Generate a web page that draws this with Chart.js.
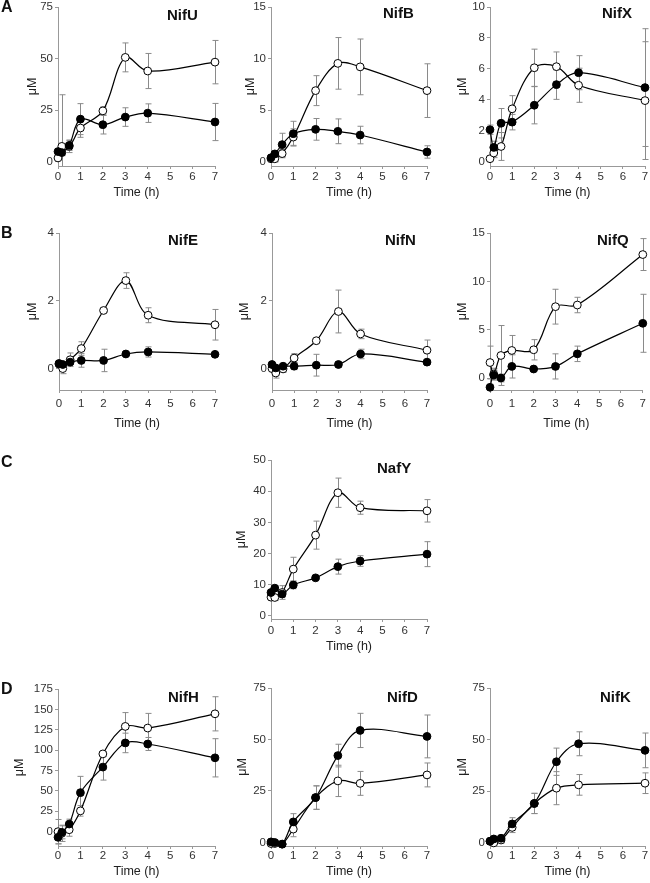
<!DOCTYPE html>
<html>
<head>
<meta charset="utf-8">
<script src="https://cdn.jsdelivr.net/npm/chart.js@4.4.1/dist/chart.umd.min.js"></script>
<style>
  body { margin: 0; background: #fff; width: 650px; height: 883px; overflow: hidden; position: relative;
         font-family: "Liberation Sans", Arial, sans-serif; }
  canvas { position: absolute; }
  .lbl { position: absolute; font-weight: bold; color: #111; white-space: nowrap; }
</style>
</head>
<body>
<script>
// sampling times (h), same for every panel
const hours = [0, 0.17, 0.5, 1, 2, 3, 4, 7];
const hourTicks = [0, 1, 2, 3, 4, 5, 6, 7];

// filled circles / open circles, with +/- error
const nifUFilled = [5.0, 4.5, 8.0, 20.7, 18.0, 21.7, 23.6, 19.3];
const nifUFilledErr = [1.5, 1.5, 2.5, 7.5, 4.5, 4.5, 4.5, 9.0];
const nifUOpen = [1.9, 7.5, 7.5, 16.4, 24.7, 50.6, 44.0, 48.3];
const nifUOpenErr = [1.0, 25.0, 3.0, 4.5, 2.0, 7.0, 8.5, 10.5];

const nifBFilled = [0.4, 0.77, 1.67, 2.73, 3.15, 2.96, 2.6, 0.96];
const nifBFilledErr = [0.3, 0.3, 1.1, 1.2, 1.05, 1.2, 0.85, 0.6];
const nifBOpen = [0.3, 0.3, 0.8, 2.4, 6.9, 9.54, 9.2, 6.9];
const nifBOpenErr = [0.3, 0.3, 0.4, 0.8, 1.45, 2.5, 2.7, 2.6];

const nifXFilled = [2.08, 0.94, 2.5, 2.57, 3.66, 4.99, 5.76, 4.8];
const nifXFilledErr = [0.3, 0.4, 0.95, 0.5, 1.2, 0.95, 1.1, 3.8];
const nifXOpen = [0.21, 0.58, 1.0, 3.43, 6.08, 6.15, 4.95, 3.96];
const nifXOpenErr = [0.1, 0.3, 0.9, 0.85, 1.2, 0.95, 1.1, 3.8];

const nifEFilled = [0.16, 0.13, 0.2, 0.25, 0.25, 0.44, 0.5, 0.43];
const nifEFilledErr = [0.04, 0.04, 0.05, 0.2, 0.33, 0.04, 0.15, 0.04];
const nifEOpen = [0.14, 0.01, 0.27, 0.6, 1.72, 2.6, 1.58, 1.3];
const nifEOpenErr = [0.1, 0.15, 0.2, 0.2, 0.05, 0.23, 0.22, 0.45];

const nifNFilled = [0.13, 0.03, 0.08, 0.08, 0.11, 0.13, 0.44, 0.2];
const nifNFilledErr = [0.04, 0.04, 0.05, 0.1, 0.32, 0.08, 0.14, 0.05];
const nifNOpen = [0.01, -0.12, 0.0, 0.32, 0.83, 1.69, 1.03, 0.55];
const nifNOpenErr = [0.05, 0.15, 0.1, 0.13, 0.04, 0.63, 0.14, 0.3];

const nifQFilled = [-0.96, 0.3, 0.0, 1.2, 0.93, 1.2, 2.5, 5.66];
const nifQFilledErr = [0.3, 0.5, 0.4, 1.2, 0.1, 1.3, 0.8, 3.0];
const nifQOpen = [1.6, 0.41, 2.33, 2.85, 2.92, 7.38, 7.55, 12.77];
const nifQOpenErr = [1.7, 0.6, 3.1, 1.55, 1.05, 1.8, 0.8, 1.65];

const nafYFilled = [7.5, 8.9, 7.0, 9.9, 12.2, 15.8, 17.6, 19.8];
const nafYFilledErr = [0.8, 0.8, 1.0, 1.2, 0.5, 2.4, 1.7, 4.0];
const nafYOpen = [6.0, 5.9, 7.5, 15.0, 25.9, 39.5, 34.7, 33.7];
const nafYOpenErr = [1.0, 1.0, 2.2, 3.8, 4.5, 4.7, 2.1, 3.6];

const nifHFilled = [-7.3, -1.2, 9, 47.6, 79, 108.7, 107.4, 90.4];
const nifHFilledErr = [8, 8, 6, 20, 16, 12, 8, 23.5];
const nifHOpen = [-0.4, -2.4, 2, 25.2, 95.2, 129, 127, 144.5];
const nifHOpenErr = [15, 10, 8, 6.5, 3, 17, 18, 21];

const nifDFilled = [0.3, 0, -0.8, 10, 21.8, 42.2, 54.4, 51.5];
const nifDFilledErr = [1.5, 1, 0.5, 4, 5.7, 5.5, 8.3, 10.4];
const nifDOpen = [-0.5, -0.5, -0.8, 6.5, 21.8, 29.9, 28.7, 32.8];
const nifDOpenErr = [1, 1, 0.5, 3.7, 5.7, 7.6, 5.8, 5.8];

const nifKFilled = [0.8, 1.9, 2.25, 9.2, 19.1, 39.3, 48, 44.8];
const nifKFilledErr = [1, 1, 1.5, 3, 4.9, 6.6, 5.8, 8.4];
const nifKOpen = [0.8, 0, 1.4, 7.5, 19.1, 26.5, 28.1, 28.9];
const nifKOpenErr = [0.8, 0.8, 1.5, 2.5, 4.9, 8, 5, 5];

// y tick labels
const ticks75 = [0, 25, 50, 75];
const ticks15 = [0, 5, 10, 15];
const ticks10 = [0, 2, 4, 6, 8, 10];
const ticks4 = [0, 2, 4];
const ticks50 = [0, 10, 20, 30, 40, 50];
const ticks175 = [0, 25, 50, 75, 100, 125, 150, 175];

// panel placement (page pixels)
const panels = [
  { name: 'NifU', f: nifUFilled, fe: nifUFilledErr, o: nifUOpen, oe: nifUOpenErr, ticks: ticks75, yMin: -2, yMax: 75,
    axisX: 58, top: 7, bottom: 166, right: 215, timeY: 193, tickPad: 1, muOff: 25, tx: 167, ty: 15 },
  { name: 'NifB', f: nifBFilled, fe: nifBFilledErr, o: nifBOpen, oe: nifBOpenErr, ticks: ticks15, yMin: -0.4, yMax: 15,
    axisX: 271, top: 7, bottom: 166, right: 427, timeY: 193, tickPad: 1, muOff: 20, tx: 383, ty: 13 },
  { name: 'NifX', f: nifXFilled, fe: nifXFilledErr, o: nifXOpen, oe: nifXOpenErr, ticks: ticks10, yMin: -0.26, yMax: 10,
    axisX: 490, top: 7, bottom: 166, right: 647, timeY: 193, tickPad: 1, muOff: 27, tx: 602, ty: 13 },
  { name: 'NifE', f: nifEFilled, fe: nifEFilledErr, o: nifEOpen, oe: nifEOpenErr, ticks: ticks4, yMin: -0.62, yMax: 4,
    axisX: 59, top: 233, bottom: 390, right: 215, timeY: 424, tickPad: 4, muOff: 26, tx: 168, ty: 240 },
  { name: 'NifN', f: nifNFilled, fe: nifNFilledErr, o: nifNOpen, oe: nifNOpenErr, ticks: ticks4, yMin: -0.62, yMax: 4,
    axisX: 272, top: 233, bottom: 390, right: 427, timeY: 424, tickPad: 4, muOff: 27, tx: 385, ty: 240 },
  { name: 'NifQ', f: nifQFilled, fe: nifQFilledErr, o: nifQOpen, oe: nifQOpenErr, ticks: ticks15, yMin: -1.24, yMax: 15,
    axisX: 490, top: 233, bottom: 390, right: 647, timeY: 424, tickPad: 4, muOff: 27, tx: 597, ty: 240 },
  { name: 'NafY', f: nafYFilled, fe: nafYFilledErr, o: nafYOpen, oe: nafYOpenErr, ticks: ticks50, yMin: -1, yMax: 50,
    axisX: 271, top: 460, bottom: 619, right: 427, timeY: 647, tickPad: 2, muOff: 29, tx: 377, ty: 468 },
  { name: 'NifH', f: nifHFilled, fe: nifHFilledErr, o: nifHOpen, oe: nifHOpenErr, ticks: ticks175, yMin: -18, yMax: 175,
    axisX: 58, top: 689, bottom: 846, right: 215, timeY: 872, tickPad: 0, muOff: 38, tx: 168, ty: 697 },
  { name: 'NifD', f: nifDFilled, fe: nifDFilledErr, o: nifDOpen, oe: nifDOpenErr, ticks: ticks75, yMin: -1.7, yMax: 75,
    axisX: 271, top: 688, bottom: 846, right: 427, timeY: 872, tickPad: 0, muOff: 28, tx: 387, ty: 697 },
  { name: 'NifK', f: nifKFilled, fe: nifKFilledErr, o: nifKOpen, oe: nifKOpenErr, ticks: ticks75, yMin: -1.5, yMax: 75,
    axisX: 490, top: 688, bottom: 846, right: 647, timeY: 872, tickPad: 0, muOff: 27, tx: 600, ty: 697 }
];

const rowLetters = [['A', 1, 7], ['B', 1, 233], ['C', 1, 462], ['D', 1, 689]];

Chart.defaults.font.family = '"Liberation Sans", Arial, sans-serif';

// vertical error bars with caps, drawn under the lines
const errorBars = {
  id: 'errorBars',
  beforeDatasetsDraw(chart) {
    const { ctx, chartArea, scales: { x, y } } = chart;
    ctx.save();
    ctx.beginPath();
    ctx.rect(chartArea.left - 6, chartArea.top - 2, chartArea.right - chartArea.left + 12, chartArea.bottom - chartArea.top + 2);
    ctx.clip();
    ctx.strokeStyle = '#8a8a8a';
    ctx.lineWidth = 1;
    chart.data.datasets.forEach(ds => {
      ds.data.forEach((p, i) => {
        const e = ds.errors[i];
        if (!e) return;
        const px = Math.round(x.getPixelForValue(p.x)) + 0.5;
        const top = y.getPixelForValue(p.y + e);
        const bot = y.getPixelForValue(p.y - e);
        ctx.beginPath();
        ctx.moveTo(px, top); ctx.lineTo(px, bot);
        ctx.moveTo(px - 3, top); ctx.lineTo(px + 3, top);
        ctx.moveTo(px - 3, bot); ctx.lineTo(px + 3, bot);
        ctx.stroke();
      });
    });
    ctx.restore();
  }
};

function points(values) {
  return values.map((v, i) => ({ x: hours[i], y: v }));
}

function series(values, errs, fill) {
  return {
    data: points(values),
    errors: errs,
    borderColor: '#000',
    borderWidth: 1.2,
    pointBackgroundColor: fill,
    pointBorderColor: '#000',
    pointBorderWidth: 1,
    pointRadius: 3.9,
    tension: 0.35,
    clip: false
  };
}

function drawPanel(p) {
  const padL = 50, padT = 10;
  const padR = p.right > 600 ? 3 : 10;
  const left = p.axisX - padL;
  const topY = p.top - padT;
  const canvasBottom = p.timeY + 9;
  const w = p.right + padR - left;
  const h = canvasBottom - topY;
  const xAxisH = canvasBottom - p.bottom;

  const canvas = document.createElement('canvas');
  canvas.width = w; canvas.height = h;
  canvas.style.left = left + 'px';
  canvas.style.top = topY + 'px';
  canvas.style.width = w + 'px';
  canvas.style.height = h + 'px';
  document.body.appendChild(canvas);

  new Chart(canvas.getContext('2d'), {
    type: 'line',
    data: {
      datasets: [series(p.f, p.fe, '#000'), series(p.o, p.oe, '#fff')]
    },
    options: {
      responsive: false,
      animation: false,
      layout: { padding: { left: 0, top: padT, right: padR, bottom: 0 } },
      plugins: { legend: { display: false }, tooltip: { enabled: false } },
      scales: {
        x: {
          type: 'linear', min: 0, max: 7,
          afterFit(s) { s.height = xAxisH; },
          afterBuildTicks(s) { s.ticks = hourTicks.map(v => ({ value: v })); },
          grid: { drawOnChartArea: false, tickLength: 3, color: '#999' },
          border: { color: '#999' },
          ticks: { font: { size: 11.5 }, color: '#333', padding: p.tickPad, maxRotation: 0, autoSkip: false },
          title: { display: true, text: 'Time (h)', font: { size: 12.5 }, color: '#222', padding: { top: 0, bottom: 1.5 } }
        },
        y: {
          min: p.yMin, max: p.yMax,
          afterFit(s) { s.width = padL; },
          afterBuildTicks(s) { s.ticks = p.ticks.map(v => ({ value: v })); },
          grid: { drawOnChartArea: false, tickLength: 3, color: '#999' },
          border: { color: '#999' },
          ticks: { font: { size: 11.5 }, color: '#333', padding: 2 },
          title: { display: true, text: 'μM', font: { size: 12.5 }, color: '#222', padding: { top: 42.5 - p.muOff, bottom: 0 } }
        }
      }
    },
    plugins: [errorBars]
  });

  const t = document.createElement('div');
  t.className = 'lbl';
  t.textContent = p.name;
  t.style.fontSize = '15px';
  t.style.lineHeight = '16px';
  t.style.left = p.tx + 'px';
  t.style.top = (p.ty - 8) + 'px';
  document.body.appendChild(t);
}

panels.forEach(drawPanel);

rowLetters.forEach(([letter, x, y]) => {
  const d = document.createElement('div');
  d.className = 'lbl';
  d.textContent = letter;
  d.style.fontSize = '16px';
  d.style.lineHeight = '16px';
  d.style.left = x + 'px';
  d.style.top = (y - 8) + 'px';
  document.body.appendChild(d);
});
</script>
</body>
</html>
